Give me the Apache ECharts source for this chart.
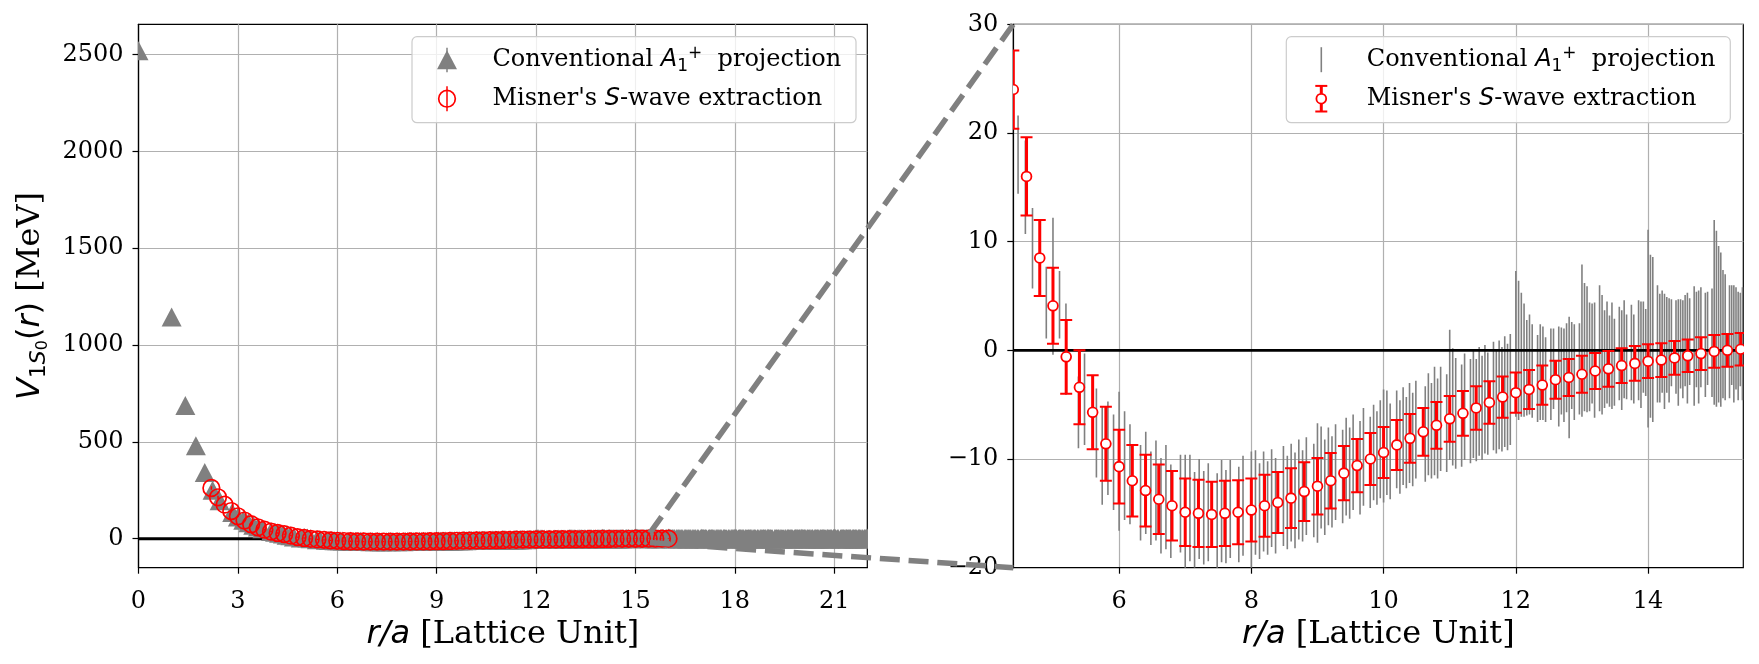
<!DOCTYPE html>
<html>
<head>
<meta charset="utf-8">
<script src="https://cdn.jsdelivr.net/npm/echarts@6/dist/echarts.min.js"></script>
<style>
html, body { margin: 0; padding: 0; background: #fff; }
#chart { width: 1759px; height: 664px; }
</style>
</head>
<body>
<div id="chart"></div>
<script>
// ---- Misner's S-wave extraction (red) : r/a, V [MeV], error ----
const misnerR = [
  2.2, 2.4, 2.6, 2.8, 3.0, 3.2, 3.4, 3.6, 3.8, 4.0,
  4.2, 4.4, 4.6, 4.8, 5.0, 5.2, 5.4, 5.6, 5.8, 6.0,
  6.2, 6.4, 6.6, 6.8, 7.0, 7.2, 7.4, 7.6, 7.8, 8.0,
  8.2, 8.4, 8.6, 8.8, 9.0, 9.2, 9.4, 9.6, 9.8, 10.0,
  10.2, 10.4, 10.6, 10.8, 11.0, 11.2, 11.4, 11.6, 11.8, 12.0,
  12.2, 12.4, 12.6, 12.8, 13.0, 13.2, 13.4, 13.6, 13.8, 14.0,
  14.2, 14.4, 14.6, 14.8, 15.0, 15.2, 15.4, 15.6, 15.8, 16.0,
]
const misnerV = [
  262, 214, 176, 143, 116, 94, 75, 59, 47, 37,
  30, 24.0, 16.0, 8.5, 4.1, -0.6, -3.4, -5.7, -8.6, -10.7,
  -12.0, -12.9, -13.7, -14.3, -14.9, -15.0, -15.1, -15.0, -14.9, -14.7,
  -14.3, -14.0, -13.6, -13.0, -12.5, -12.0, -11.3, -10.6, -10.0, -9.4,
  -8.7, -8.1, -7.5, -6.9, -6.3, -5.8, -5.3, -4.8, -4.3, -3.9,
  -3.6, -3.2, -2.7, -2.5, -2.2, -1.9, -1.7, -1.4, -1.2, -1.0,
  -0.9, -0.7, -0.5, -0.3, -0.1, 0.0, 0.1, 0.3, 0.4, 0.5,
]
const misnerErr = [
  9, 8, 7, 6, 5.5, 5, 4.6, 4.3, 4.0, 3.8,
  3.7, 3.6, 3.6, 3.5, 3.5, 3.4, 3.4, 3.4, 3.4, 3.4,
  3.3, 3.3, 3.2, 3.2, 3.1, 3.1, 3.0, 3.0, 2.95, 2.9,
  2.85, 2.8, 2.75, 2.7, 2.6, 2.55, 2.5, 2.45, 2.4, 2.35,
  2.3, 2.25, 2.2, 2.15, 2.1, 2.05, 2.0, 1.95, 1.9, 1.85,
  1.8, 1.8, 1.75, 1.7, 1.7, 1.65, 1.65, 1.6, 1.6, 1.55,
  1.55, 1.55, 1.5, 1.5, 1.5, 1.5, 1.5, 1.5, 1.5, 1.5,
]

// ---- Conventional A1+ projection (grey) : lattice points, (r/a)^2, V [MeV], error ----
const convRSq = [
  0, 1, 2, 3, 4, 5, 6, 8, 9, 10, 11, 12, 13, 14, 16, 17, 18, 19,
  20, 21, 22, 24, 25, 26, 27, 29, 30, 32, 33, 34, 35, 36, 37, 38, 40, 41, 42, 43, 44, 45, 46, 48, 49,
  50, 51, 52, 53, 54, 56, 57, 58, 59, 61, 62, 64, 65, 66, 67, 68, 69, 70, 72, 73, 74, 75, 76, 77, 78,
  80, 81, 82, 83, 84, 85, 86, 88, 89, 90, 91, 93, 94, 96, 97, 98, 99, 100, 101, 102, 104, 105, 106,
  107, 108, 109, 110, 113, 114, 115, 116, 117, 118, 120, 121, 122, 123, 125, 126, 128, 129, 130, 131,
  132, 133, 134, 136, 137, 138, 139, 140, 141, 142, 144, 145, 146, 147, 148, 149, 150, 152, 153, 154,
  155, 157, 158, 160, 161, 162, 163, 164, 165, 166, 168, 169, 170, 171, 172, 173, 174, 176, 177, 178,
  179, 180, 181, 182, 184, 185, 186, 187, 189, 190, 192, 193, 194, 195, 196, 197, 198, 200, 201, 202,
  203, 204, 205, 206, 208, 209, 210, 211, 212, 213, 214, 216, 217, 218, 219, 221, 222, 224, 225, 226,
  227, 228, 229, 230, 232, 233, 234, 235, 236, 237,
  238, 241, 242, 243, 244, 245, 246, 248, 249, 250, 251, 253, 254, 256, 257, 258, 259, 260, 261, 262,
  264, 265, 266, 267, 268, 269, 270, 272, 273, 274, 275, 276, 277, 278, 280, 281, 282, 283, 285, 286,
  288, 289, 290, 291, 292, 293, 294, 296, 297, 298, 299, 300, 301, 302, 304, 305, 306, 307, 308, 309,
  310, 312, 313, 314, 315, 317, 318, 320, 321, 322, 323, 324, 325, 326, 328, 329, 330, 331, 332, 333,
  334, 336, 337, 338, 339, 340, 341, 342, 344, 345, 346, 347, 349, 350, 352, 353, 354, 355, 356, 357,
  358, 360, 361, 362, 363, 364, 365, 366, 369, 370, 371, 372, 373, 374, 376, 377, 378, 379, 381, 382,
  384, 385, 386, 387, 388, 389, 390, 392, 393, 394, 395, 396, 397, 398, 400, 401, 402, 403, 404, 405,
  406, 408, 409, 410, 411, 413, 414, 416, 417, 418, 419, 420, 421, 422, 424, 425, 426, 427, 428, 429,
  430, 432, 433, 434, 435, 436, 437, 438, 440, 441, 442, 443, 445, 446, 449, 450, 451, 452, 453, 454,
  456, 457, 458, 459, 460, 461, 462, 464, 465, 466, 467, 468, 469, 470, 472, 473, 474, 475, 477, 478,
  480, 481, 482, 483, 484,
]
const convV = [
  2520, 1145, 688, 480, 342, 250, 196, 136, 112, 95, 82, 70, 60, 52, 38, 33, 28, 25,
  18.0, 15.0, 9.4, 4.4, 5.9, 4.2, 0.1, -5.7, -4.5, -7.6, -9.7, -9.0, -10.3, -10.2, -10.6, -11.4, -13.1, -12.2, -13.6, -12.9, -14.3, -13.5, -14.8, -14.1, -15.2,
  -14.5, -15.6, -14.6, -15.4, -14.9, -15.7, -14.8, -15.3, -14.6, -15.1, -14.3, -14.9, -14.0, -14.8, -13.9, -14.5, -13.6, -14.3, -13.4, -14.0, -13.1, -13.8, -12.8, -13.4, -12.5,
  -12.9, -12.2, -11.7, -12.6, -11.6, -12.1, -11.2, -11.6, -10.7, -11.3, -10.3, -10.8, -9.8, -10.3, -9.4, -9.9, -9.1, -8.8, -8.5, -9.3, -8.2, -8.9, -7.9,
  -8.5, -7.6, -8.2, -7.3, -7.7, -6.8, -7.4, -6.5, -7.2, -6.3, -6.7, -4.1, -5.2, -5.8, -6.0, -5.2, -5.6, -4.9, -5.5, -4.7,
  -5.3, -4.5, -4.9, -4.2, -4.7, -4.1, -4.5, -3.8, -4.3, -3.6, 0.6, 0.0, -0.4, -0.9, -1.6, -1.3, -1.9, -2.6, -2.0, -2.1,
  -2.7, -2.2, -1.7, -2.4, -1.9, -2.3, -1.6, -2.5, -1.4, -2.0, -1.7, 0.9, 0.3, 0.1, -0.6, -0.3, -0.9, 0.2, -0.4, -0.8,
  -0.2, -1.0, -0.5, -1.1, -0.3, -0.9, 0.1, -0.6, -0.2, -0.8, 0.0, -0.4, 0.3, -0.2, 2.0, 1.3, 1.0, 0.6, 0.2, 0.8,
  -0.1, 0.5, 0.0, 0.7, 0.3, -0.2, 0.6, 0.1, 0.9, 0.2, 0.8, 0.4, 1.0, 0.3, 1.2, 0.5, 1.1, 0.7, 3.5, 2.9,
  2.4, 1.9, 1.5, 1.2, 0.8, 1.4, 0.6, 1.1, 0.4, 1.0,
  0.6, 1.8, 1.1, 0.4, 1.5, 0.2, 0.9, 1.3, -0.2, 0.7, 1.6, 0.1, 0.8, 3.2, 2.1, 1.4, 0.5, 1.2, -0.3, 0.9,
  1.7, 0.3, 1.0, -0.5, 0.6, 1.4, 0.2, 0.8, 1.5, -0.1, 0.6, 1.1, 0.0, 0.9, 1.3, 0.4, -0.4, 0.7, 1.0, 0.2,
  0.5, 2.8, 1.9, 1.0, 0.3, 1.2, -0.2, 0.6, 1.3, 0.1, 0.8, 1.5, -0.3, 0.4, 1.0, 0.2, 0.9, -0.4, 0.6, 1.2,
  0.0, 0.7, 1.4, 0.3, -0.1, 0.9, 0.4, 1.1, 0.2, 0.8, -0.3, 2.5, 1.6, 0.7, 0.1, 0.9, 1.3, -0.2, 0.5, 1.0,
  0.3, 0.8, -0.1, 0.6, 1.2, 0.0, 0.7, 1.1, 0.3, -0.4, 0.9, 0.5, 1.2, 0.1, 0.6, 1.0, -0.2, 0.4, 0.9, 0.2,
  1.3, 0.0, 2.7, 1.5, 0.6, 1.1, -0.1, 0.5, 0.8, 0.2, 1.0, -0.3, 0.7, 0.4, 1.2, 0.1, 0.6, -0.2, 0.9, 0.3,
  0.7, 1.1, 0.0, 0.5, 1.3, -0.3, 0.6, 0.2, 0.9, 1.4, 0.1, 0.7, -0.1, 1.0, 2.9, 1.8, 0.9, 0.4, 1.2, 0.0,
  0.6, 1.0, -0.2, 0.5, 1.1, 0.3, 0.8, -0.1, 0.6, 1.3, 0.2, 0.9, -0.4, 0.5, 1.0, 0.3, 0.7, -0.2, 1.2, 0.4,
  0.0, 0.8, 1.4, 0.1, 0.6, -0.3, 0.9, 0.5, 1.1, 3.1, 1.7, 0.8, 0.2, 1.0, 0.6, -0.1, 1.2, 0.3, 0.8, 0.0,
  0.7, 1.3, -0.2, 0.5, 1.0, 0.1, 0.9, 0.4, -0.3, 1.1, 0.6, 0.2, 1.4, 0.0, 0.8, 0.3, 1.2, -0.1, 0.7, 0.4,
  1.0, 0.2, 0.6, 1.3, 3.4,
]
const convErr = [
  30, 18, 12, 9, 7, 6, 5, 4.5, 4.2, 4, 4, 3.8, 3.8, 3.7, 3.7, 3.6, 3.6, 3.6,
  3.6, 4.3, 3.7, 3.3, 6.3, 3.1, 4.2, 3.3, 4.2, 4.1, 4.5, 4.3, 4.4, 6.4, 5.0, 4.6, 4.4, 4.7, 4.3, 4.6, 4.4, 4.8, 4.3, 4.5, 5.6,
  4.9, 4.4, 4.6, 4.3, 4.5, 4.4, 4.7, 4.3, 4.5, 4.4, 4.6, 5.6, 4.8, 4.4, 4.6, 4.3, 4.5, 4.4, 4.6, 4.3, 4.5, 4.4, 4.6, 4.2, 4.5,
  4.3, 5.5, 4.7, 4.4, 4.5, 4.2, 4.4, 4.3, 4.5, 4.2, 4.4, 4.3, 4.5, 4.2, 4.4, 4.3, 4.5, 5.2, 4.8, 4.4, 4.5, 4.3, 4.5,
  4.2, 4.6, 4.3, 4.5, 4.4, 4.7, 4.4, 5.0, 4.6, 4.8, 4.5, 6.0, 5.4, 5.1, 4.7, 4.9, 4.8, 5.0, 4.7, 5.0,
  4.8, 5.0, 4.7, 5.0, 4.8, 5.0, 4.8, 5.1, 4.9, 5.1, 6.7, 6.4, 5.7, 5.2, 4.4, 4.6, 4.3, 4.0, 4.4, 4.3,
  3.9, 4.2, 3.7, 4.6, 4.0, 4.3, 4.1, 5.6, 4.0, 4.4, 4.2, 7.0, 5.9, 5.8, 5.0, 4.6, 5.3, 5.8, 5.5, 4.5,
  4.7, 4.2, 4.9, 4.0, 4.3, 4.6, 4.5, 3.9, 4.4, 4.1, 4.6, 4.9, 4.2, 4.0, 9.1, 7.5, 7.6, 5.4, 5.0, 4.7,
  5.3, 4.4, 4.8, 4.0, 4.3, 4.9, 4.1, 4.5, 4.2, 5.1, 4.0, 5.5, 4.4, 5.2, 4.6, 4.8, 4.3, 5.0, 8.5, 8.1,
  7.2, 7.1, 5.9, 5.8, 5.2, 4.6, 5.4, 4.7, 5.0, 4.3,
  5.2, 6.1, 5.4, 4.8, 5.9, 5.0, 6.3, 5.5, 4.9, 6.0, 5.3, 5.8, 5.1, 11.5, 8.9, 7.2, 6.0, 5.6, 6.4, 5.2,
  6.8, 5.5, 6.2, 5.0, 5.9, 6.5, 5.3, 6.0, 5.4, 6.7, 5.1, 5.8, 6.2, 5.6, 6.4, 5.2, 5.9, 6.6, 5.5, 6.1,
  5.7, 12.0, 9.3, 7.5, 6.4, 5.9, 6.8, 6.2, 5.6, 7.0, 5.8, 6.5, 5.4, 6.1, 6.9, 5.7, 6.3, 5.5, 6.8, 6.0,
  5.9, 6.6, 6.1, 5.7, 7.1, 6.0, 6.4, 5.8, 6.7, 6.2, 5.9, 12.6, 9.8, 7.7, 6.5, 6.0, 6.9, 5.8, 6.4, 7.2,
  6.1, 6.7, 6.3, 5.9, 7.0, 6.5, 6.2, 6.8, 7.3, 6.0, 6.6, 6.2, 6.9, 6.4, 6.1, 7.2, 6.6, 6.3, 7.0, 6.5,
  6.8, 6.4, 13.2, 10.1, 8.0, 7.1, 6.6, 7.4, 6.9, 6.5, 7.3, 6.7, 7.0, 6.4, 7.5, 6.8, 7.1, 6.6, 7.2, 6.9,
  7.0, 7.6, 6.7, 7.3, 6.9, 7.4, 7.1, 6.8, 7.5, 7.2, 7.0, 7.7, 6.9, 7.3, 13.8, 10.6, 8.4, 7.6, 7.2, 7.9,
  7.4, 7.1, 7.8, 7.3, 7.6, 7.4, 7.9, 7.5, 7.2, 8.0, 7.6, 7.3, 7.8, 7.5, 7.9, 7.4, 8.1, 7.7, 7.5, 8.2,
  7.6, 7.8, 8.3, 7.5, 8.0, 7.7, 8.4, 7.9, 8.1, 14.5, 11.0, 8.9, 8.2, 7.9, 8.4, 8.0, 8.6, 8.1, 8.5, 8.2,
  8.7, 8.3, 8.8, 8.4, 8.6, 8.9, 8.5, 8.8, 9.0, 8.6, 8.9, 8.7, 9.1, 8.8, 9.2, 8.9, 9.0, 9.3, 9.1, 8.9,
  9.4, 9.0, 9.2, 9.5, 15.2,
]

// axis ranges and tick labels
const leftX = [0, 22]
const leftY = [-149.5, 2656]
const zoomX = [4.4, 15.44]   // right panel = zoomed window of the left one
const zoomY = [-20, 30]
const leftXTicks = [0, 3, 6, 9, 12, 15, 18, 21]
const leftYTicks = [0, 500, 1000, 1500, 2000, 2500]
const rightXTicks = [6, 8, 10, 12, 14]
const rightYTicks = [-20, -10, 0, 10, 20, 30]

const SERIF = 'DejaVu Serif'
const SANS = 'DejaVu Sans'
const GREY = '#808080'
const RED = '#ff0000'

const GL = { left: 138.5, top: 24.3, width: 728.8, height: 543.4 }
const GR = { left: 1013.3, top: 24.3, width: 730, height: 543.4 }

const convRows = convRSq.map((n, i) => [Math.sqrt(n), convV[i], convErr[i]])
const misnerRows = misnerR.map((r, i) => [r, misnerV[i], misnerErr[i]])

const chart = echarts.init(document.getElementById('chart'))

// ---- renderers ----
function zeroLine(params, api) {
  const cs = params.coordSys
  const y = api.coord([api.value(0), 0])[1]
  return { type: 'line', shape: { x1: cs.x, y1: y, x2: cs.x + cs.width, y2: y }, style: { stroke: '#000', lineWidth: 2.8 } }
}
function greyTriangle(params, api) {
  const x = api.value(0), v = api.value(1), e = api.value(2)
  const p = api.coord([x, v]), hi = api.coord([x, v + e]), lo = api.coord([x, v - e])
  return { type: 'group', children: [
    { type: 'line', shape: { x1: p[0], y1: hi[1], x2: p[0], y2: lo[1] }, style: { stroke: GREY, lineWidth: 1.5 } },
    { type: 'polygon', shape: { points: [[p[0], p[1] - 9.5], [p[0] - 10, p[1] + 9.5], [p[0] + 10, p[1] + 9.5]] }, style: { fill: GREY } },
  ] }
}
function redRing(params, api) {
  const x = api.value(0), v = api.value(1), e = api.value(2)
  const p = api.coord([x, v]), hi = api.coord([x, v + e]), lo = api.coord([x, v - e])
  return { type: 'group', children: [
    { type: 'line', shape: { x1: p[0], y1: hi[1], x2: p[0], y2: lo[1] }, style: { stroke: RED, lineWidth: 1.5 } },
    { type: 'circle', shape: { cx: p[0], cy: p[1], r: 8.3 }, style: { fill: 'none', stroke: RED, lineWidth: 1.7 } },
  ] }
}
function greyBar(params, api) {
  const x = api.value(0), v = api.value(1), e = api.value(2)
  const hi = api.coord([x, v + e]), lo = api.coord([x, v - e])
  return { type: 'line', shape: { x1: hi[0], y1: hi[1], x2: lo[0], y2: lo[1] }, style: { stroke: GREY, lineWidth: 1.6 } }
}
function redBar(params, api) {
  const x = api.value(0), v = api.value(1), e = api.value(2)
  const p = api.coord([x, v]), hi = api.coord([x, v + e]), lo = api.coord([x, v - e])
  const c = 6
  return { type: 'group', children: [
    { type: 'line', shape: { x1: p[0], y1: hi[1], x2: p[0], y2: lo[1] }, style: { stroke: RED, lineWidth: 3 } },
    { type: 'line', shape: { x1: p[0] - c, y1: hi[1], x2: p[0] + c, y2: hi[1] }, style: { stroke: RED, lineWidth: 2 } },
    { type: 'line', shape: { x1: p[0] - c, y1: lo[1], x2: p[0] + c, y2: lo[1] }, style: { stroke: RED, lineWidth: 2 } },
    { type: 'circle', shape: { cx: p[0], cy: p[1], r: 4.9 }, style: { fill: '#fff', stroke: RED, lineWidth: 1.8 } },
  ] }
}

// ---- axes ----
const tickLabel = { fontFamily: SERIF, fontSize: 24, color: '#000' }
const minus = v => (v < 0 ? '\u2212' + Math.abs(v) : String(v))
const xName = {
  name: '{m|r/a}{t| [Lattice Unit]}', nameLocation: 'middle', nameGap: 42,
  nameTextStyle: { rich: {
    m: { fontFamily: SANS, fontStyle: 'italic', fontSize: 32, lineHeight: 40, color: '#000' },
    t: { fontFamily: SERIF, fontSize: 32, lineHeight: 40, color: '#000' },
  } },
}
function axisBase(ticks, labelMargin, labelPad) {
  return {
    type: 'value',
    axisLine: { show: true, onZero: false, lineStyle: { color: '#000', width: 1.2 } },
    axisTick: { show: true, length: 6, customValues: ticks, lineStyle: { color: '#000', width: 1.2 } },
    axisLabel: { ...tickLabel, margin: labelMargin, padding: labelPad, customValues: ticks, formatter: minus },
    splitLine: { show: true, lineStyle: { color: '#b0b0b0', width: 1.2 } },
  }
}

chart.setOption({
  animation: false,
  backgroundColor: '#fff',
  grid: [
    { ...GL, show: true, borderColor: '#000', borderWidth: 1.2, containLabel: false, outerBoundsMode: 'none' },
    { ...GR, show: true, borderColor: '#000', borderWidth: 1.2, containLabel: false, outerBoundsMode: 'none' },
  ],
  xAxis: [
    { ...axisBase(leftXTicks, 11, [11, 0, 0, 0]), gridIndex: 0, min: leftX[0], max: leftX[1], interval: 3, ...xName },
    { ...axisBase(rightXTicks, 11, [11, 0, 0, 0]), gridIndex: 1, min: zoomX[0], max: zoomX[1], ...xName },
  ],
  yAxis: [
    { ...axisBase(leftYTicks, 15, 0), gridIndex: 0, min: leftY[0], max: leftY[1],
      name: '{v|V}{a|1}{b|S}{c|0}{p|(}{v|r}{p|)}{t| [MeV]}', nameLocation: 'middle', nameRotate: 90, nameGap: 88,
      nameTextStyle: { rich: {
        v: { fontFamily: SANS, fontStyle: 'italic', fontSize: 32, lineHeight: 40, color: '#000' },
        p: { fontFamily: SANS, fontSize: 32, lineHeight: 40, color: '#000' },
        t: { fontFamily: SERIF, fontSize: 32, lineHeight: 40, color: '#000' },
        a: { fontFamily: SANS, fontSize: 22, lineHeight: 18, verticalAlign: 'bottom', color: '#000' },
        b: { fontFamily: SANS, fontStyle: 'italic', fontSize: 22, lineHeight: 18, verticalAlign: 'bottom', color: '#000' },
        c: { fontFamily: SANS, fontSize: 16, lineHeight: 12, verticalAlign: 'bottom', color: '#000' },
      } } },
    { ...axisBase(rightYTicks, 15, 0), gridIndex: 1, min: zoomY[0], max: zoomY[1], interval: 10 },
  ],
  series: [
    { type: 'custom', name: 'zero-L', xAxisIndex: 0, yAxisIndex: 0, data: [[leftX[0], 0]], renderItem: zeroLine, clip: true, z: 2, silent: true },
    { type: 'custom', name: 'conv-L', xAxisIndex: 0, yAxisIndex: 0, data: convRows, encode: { x: 0, y: 1 }, renderItem: greyTriangle, clip: true, z: 3, silent: true },
    { type: 'custom', name: 'misner-L', xAxisIndex: 0, yAxisIndex: 0, data: misnerRows, encode: { x: 0, y: 1 }, renderItem: redRing, clip: true, z: 4, silent: true },
    { type: 'custom', name: 'conv-R', xAxisIndex: 1, yAxisIndex: 1, data: convRows, encode: { x: 0, y: 1 }, renderItem: greyBar, clip: true, z: 2, silent: true },
    { type: 'custom', name: 'zero-R', xAxisIndex: 1, yAxisIndex: 1, data: [[zoomX[0], 0]], renderItem: zeroLine, clip: true, z: 3, silent: true },
    { type: 'custom', name: 'misner-R', xAxisIndex: 1, yAxisIndex: 1, data: misnerRows, encode: { x: 0, y: 1 }, renderItem: redBar, clip: true, z: 4, silent: true },
  ],
})

// ---- legends (drawn as graphic boxes like matplotlib's) ----
const legendRich = {
  n: { fontFamily: SERIF, fontSize: 24, lineHeight: 30, fill: '#000' },
  m: { fontFamily: SANS, fontStyle: 'italic', fontSize: 24, lineHeight: 30, fill: '#000' },
  sb: { fontFamily: SANS, fontSize: 17, lineHeight: 14, verticalAlign: 'bottom', fill: '#000' },
  sp: { fontFamily: SANS, fontSize: 17, lineHeight: 22, verticalAlign: 'top', fill: '#000' },
}
const LEG = { w: 444, h: 86, row1: 23, row2: 62, icon: 35, text: 80.5 }

function legend(grid, marginRight, withTriangles) {
  const x0 = grid.left + grid.width - marginRight - LEG.w
  const y0 = grid.top + 12.4
  const ix = x0 + LEG.icon, r1 = y0 + LEG.row1, r2 = y0 + LEG.row2
  const els = [
    { type: 'rect', z: 50, shape: { x: x0, y: y0, width: LEG.w, height: LEG.h, r: 5 },
      style: { fill: 'rgba(255,255,255,0.8)', stroke: '#cccccc', lineWidth: 1.2 } },
    { type: 'text', z: 52, x: x0 + LEG.text, y: r1,
      style: { text: '{n|Conventional }{m|A}{sb|1}{sp|+}{n|  projection}', rich: legendRich, verticalAlign: 'middle', align: 'left' } },
    { type: 'text', z: 52, x: x0 + LEG.text, y: r2,
      style: { text: "{n|Misner's }{m|S}{n|-wave extraction}", rich: legendRich, verticalAlign: 'middle', align: 'left' } },
  ]
  if (withTriangles) {
    els.push(
      { type: 'line', z: 51, shape: { x1: ix, y1: r1 - 12, x2: ix, y2: r1 + 12.5 }, style: { stroke: GREY, lineWidth: 1.5 } },
      { type: 'polygon', z: 52, shape: { points: [[ix, r1 - 9.5], [ix - 10, r1 + 9.5], [ix + 10, r1 + 9.5]] }, style: { fill: GREY } },
      { type: 'line', z: 51, shape: { x1: ix, y1: r2 - 12.5, x2: ix, y2: r2 + 12.5 }, style: { stroke: RED, lineWidth: 1.5 } },
      { type: 'circle', z: 52, shape: { cx: ix, cy: r2, r: 8.3 }, style: { fill: 'none', stroke: RED, lineWidth: 1.7 } },
    )
  } else {
    els.push(
      { type: 'line', z: 51, shape: { x1: ix, y1: r1 - 12.5, x2: ix, y2: r1 + 12.5 }, style: { stroke: GREY, lineWidth: 1.6 } },
      { type: 'line', z: 51, shape: { x1: ix, y1: r2 - 12.8, x2: ix, y2: r2 + 12.8 }, style: { stroke: RED, lineWidth: 3 } },
      { type: 'line', z: 51, shape: { x1: ix - 6, y1: r2 - 12.8, x2: ix + 6, y2: r2 - 12.8 }, style: { stroke: RED, lineWidth: 2 } },
      { type: 'line', z: 51, shape: { x1: ix - 6, y1: r2 + 12.8, x2: ix + 6, y2: r2 + 12.8 }, style: { stroke: RED, lineWidth: 2 } },
      { type: 'circle', z: 52, shape: { cx: ix, cy: r2, r: 4.9 }, style: { fill: '#fff', stroke: RED, lineWidth: 1.8 } },
    )
  }
  return els
}

// ---- dashed connectors from the zoom window to the right panel corners ----
const fromTop = chart.convertToPixel({ gridIndex: 0 }, [zoomX[1], zoomY[1]])
const fromBot = chart.convertToPixel({ gridIndex: 0 }, [zoomX[1], zoomY[0]])
const toTop = chart.convertToPixel({ gridIndex: 1 }, [zoomX[0], zoomY[1]])
const toBot = chart.convertToPixel({ gridIndex: 1 }, [zoomX[0], zoomY[0]])
const dash = { stroke: GREY, lineWidth: 5.5, lineDash: [20, 8.8] }

chart.setOption({
  graphic: [
    ...legend(GL, 11.3, true),
    ...legend(GR, 13, false),
    { type: 'line', z: 100, shape: { x1: fromTop[0], y1: fromTop[1], x2: toTop[0], y2: toTop[1] }, style: dash },
    { type: 'line', z: 100, shape: { x1: fromBot[0], y1: fromBot[1], x2: toBot[0], y2: toBot[1] }, style: dash },
  ],
})
</script>
</body>
</html>
